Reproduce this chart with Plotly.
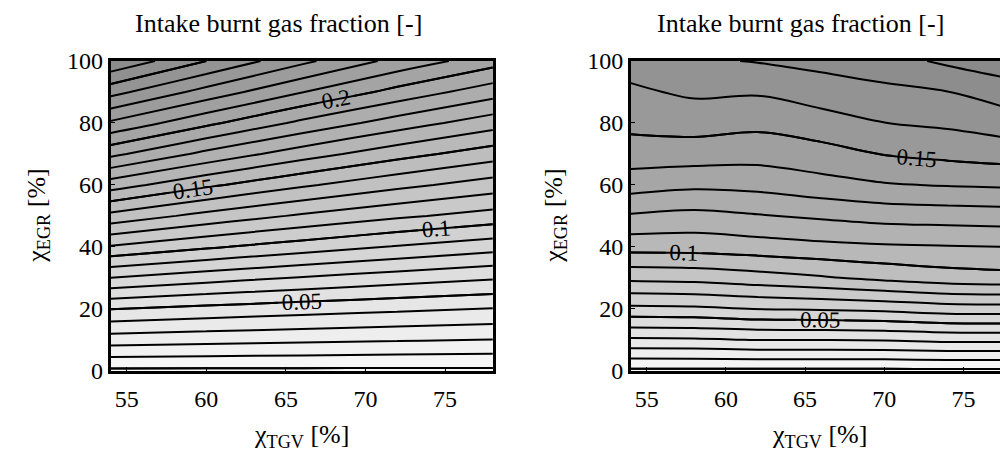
import plotly.graph_objects as go

# ---------------- data ----------------
y_grid = [0, 10, 20, 30, 40, 50, 60, 70, 80, 90, 100]          # chi_EGR [%]

x_left = [54, 60, 66, 72, 78]                                    # chi_TGV [%]
z_left = [
    [-0.002, -0.002, -0.002, -0.002, -0.002],
    [0.0251, 0.0236, 0.0222, 0.0210, 0.0198],
    [0.0503, 0.0472, 0.0444, 0.0420, 0.0397],
    [0.0799, 0.0742, 0.0693, 0.0650, 0.0611],
    [0.1089, 0.1015, 0.0951, 0.0893, 0.0841],
    [0.1369, 0.1268, 0.1186, 0.1118, 0.1060],
    [0.1647, 0.1520, 0.1415, 0.1328, 0.1254],
    [0.1925, 0.1773, 0.1646, 0.1538, 0.1448],
    [0.2183, 0.2024, 0.1877, 0.1752, 0.1645],
    [0.2435, 0.2262, 0.2104, 0.1966, 0.1843],
    [0.2686, 0.2500, 0.2324, 0.2168, 0.2042],
]

x_right = [54, 58, 62, 66, 70, 74, 78]
z_right = [
    [-0.002, -0.002, -0.002, -0.002, -0.002, -0.002, -0.002],
    [0.0284, 0.0288, 0.0303, 0.0303, 0.0307, 0.0324, 0.0324],
    [0.0575, 0.0581, 0.0603, 0.0611, 0.0626, 0.0652, 0.0656],
    [0.0825, 0.0835, 0.0859, 0.0889, 0.0925, 0.0955, 0.0969],
    [0.1039, 0.1041, 0.1056, 0.1075, 0.1088, 0.1094, 0.1100],
    [0.1190, 0.1171, 0.1193, 0.1215, 0.1238, 0.1246, 0.1254],
    [0.1344, 0.1321, 0.1331, 0.1364, 0.1392, 0.1406, 0.1414],
    [0.1453, 0.1450, 0.1439, 0.1463, 0.1504, 0.1526, 0.1546],
    [0.1527, 0.1541, 0.1525, 0.1558, 0.1599, 0.1618, 0.1654],
    [0.1584, 0.1616, 0.1610, 0.1648, 0.1674, 0.1698, 0.1757],
    [0.1640, 0.1687, 0.1705, 0.1730, 0.1762, 0.1818, 0.1857],
]

x_ticks = [55, 60, 65, 70, 75]
y_ticks = [0, 20, 40, 60, 80, 100]
title_text = "Intake burnt gas fraction [-]"
x_title = "χ<sub>TGV</sub> [%]"
y_title = "χ<sub>EGR</sub> [%]"

# ---------------- figure ----------------
FONT = "Liberation Serif, Times New Roman, serif"
gray = [[0.0, "#f8f8f8"], [1.0, "#8a8a8a"]]

fig = go.Figure()


def add_panel(x, z, xa, ya, cmax, lev_end, lab_end):
    fig.add_trace(go.Contour(
        x=x, y=y_grid, z=z, xaxis=xa, yaxis=ya,
        colorscale=gray, zmin=0, zmax=cmax, showscale=False,
        contours=dict(start=0, end=lev_end, size=0.01, coloring="fill"),
        line=dict(color="black", width=2), hoverinfo="skip",
    ))
    fig.add_trace(go.Contour(
        x=x, y=y_grid, z=z, xaxis=xa, yaxis=ya, showscale=False,
        contours=dict(start=0, end=lab_end, size=0.05, coloring="none",
                      showlabels=True, labelformat=".2~f",
                      labelfont=dict(family=FONT, size=23, color="black")),
        line=dict(color="black", width=2), hoverinfo="skip",
    ))


add_panel(x_left, z_left, "x", "y", 0.30, 0.27, 0.25)
add_panel(x_right, z_right, "x2", "y2", 0.186, 0.186, 0.15)

axis_common = dict(showline=True, linecolor="black", linewidth=3, mirror=True,
                   showgrid=False, zeroline=False, ticks="inside", ticklen=4,
                   tickcolor="black", tickfont=dict(family=FONT, size=24, color="black"))

Y_DOM = [0.196, 0.908]
fig.update_layout(
    width=1008, height=461, margin=dict(l=0, r=0, t=0, b=0),
    paper_bgcolor="white", plot_bgcolor="white", showlegend=False,
    font=dict(family=FONT, color="black"),
    xaxis=dict(domain=[0.102, 0.481], range=[54, 78], tickvals=x_ticks, anchor="y",
               ticklabelstandoff=4, **axis_common),
    yaxis=dict(domain=Y_DOM, range=[0, 100], tickvals=y_ticks, anchor="x", **axis_common),
    xaxis2=dict(domain=[0.618, 0.995], range=[54, 78], tickvals=x_ticks, anchor="y2",
                ticklabelstandoff=4, **axis_common),
    yaxis2=dict(domain=Y_DOM, range=[0, 100], tickvals=y_ticks, anchor="x2", **axis_common),
)

ann_font = dict(family=FONT, size=26, color="black")
for cx, tx, ycx in [(0.268, 0.291, 0.030), (0.786, 0.805, 0.543)]:
    fig.add_annotation(text=title_text, x=cx, y=0.995, xref="paper", yref="paper",
                       showarrow=False, font=dict(family=FONT, size=26, color="black"),
                       xanchor="center", yanchor="middle")
    fig.add_annotation(text=x_title, x=tx, y=0.047, xref="paper", yref="paper",
                       showarrow=False, font=ann_font, xanchor="center", yanchor="middle")
    fig.add_annotation(text=y_title, x=ycx, y=0.553, xref="paper", yref="paper",
                       showarrow=False, font=ann_font, textangle=-90,
                       xanchor="center", yanchor="middle")

fig.write_html("out.html")
